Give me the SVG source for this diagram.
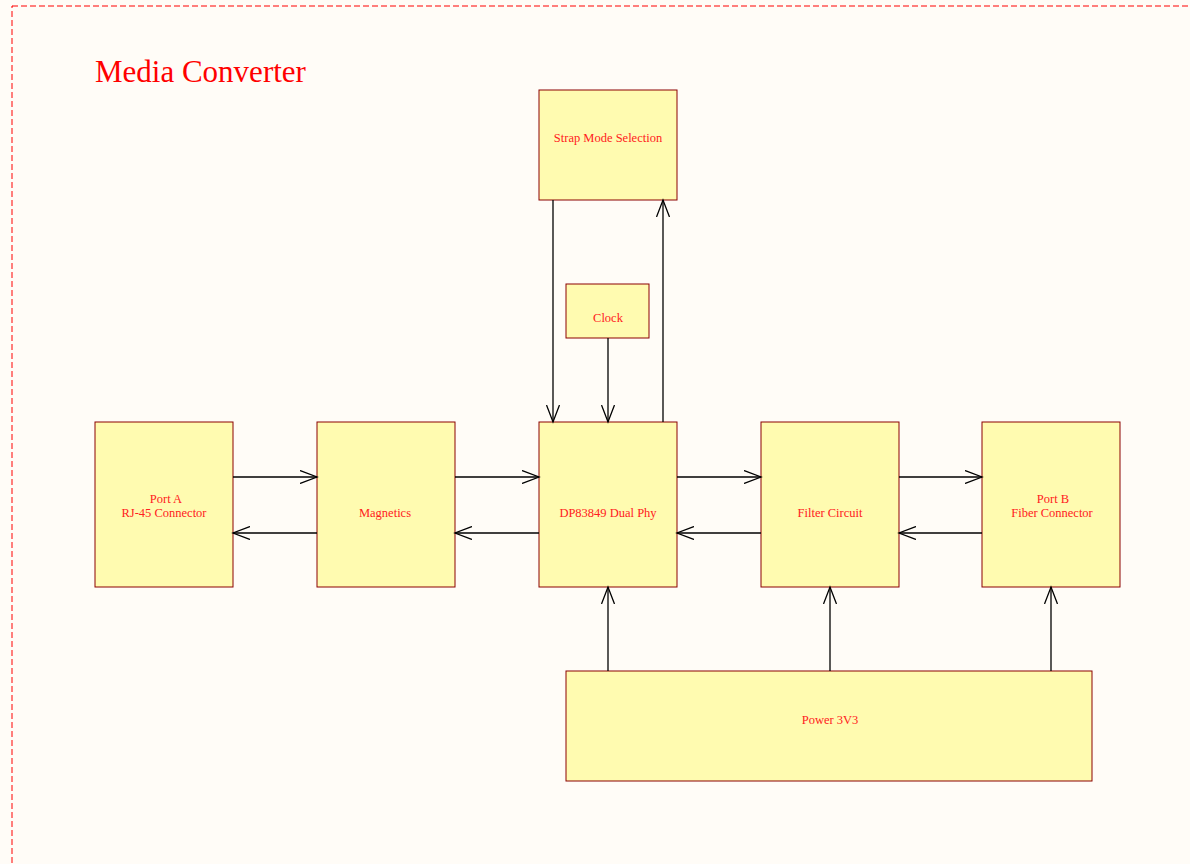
<svg xmlns="http://www.w3.org/2000/svg" width="1190" height="864" viewBox="0 0 1190 864">
<defs>
<marker id="ah" markerWidth="20" markerHeight="14" refX="17" refY="7" orient="auto" markerUnits="userSpaceOnUse">
<path d="M0,0.5 L17,7 L0,13.5" fill="none" stroke="#000" stroke-width="1.3"/>
</marker>
</defs>
<style>
.box{fill:#fffbb0;stroke:#8b0000;stroke-width:1}
.lbl{font-family:"Liberation Serif","Times New Roman",serif;font-size:12.5px;fill:#ff2020;text-anchor:middle}
.con{stroke:#000;stroke-width:1.3;fill:none;marker-end:url(#ah)}
</style>
<rect width="1190" height="864" fill="#fffcf7"/>
<rect x="12" y="6" width="1200" height="880" fill="none" stroke="#ff0000" stroke-width="1" stroke-dasharray="6,3"/>
<text x="95" y="82" font-family="'Liberation Serif','Times New Roman',serif" font-size="31" fill="#ff0000">Media Converter</text>
<g id="strap"><rect class="box" x="539" y="90" width="138" height="110"/><text class="lbl" x="608" y="142">Strap Mode Selection</text></g>
<g id="clock"><rect class="box" x="566" y="284" width="83" height="54"/><text class="lbl" x="608" y="322">Clock</text></g>
<g id="portA"><rect class="box" x="95" y="422" width="138" height="165"/><text class="lbl" x="166" y="503">Port A</text><text class="lbl" x="164" y="517">RJ-45 Connector</text></g>
<g id="magnetics"><rect class="box" x="317" y="422" width="138" height="165"/><text class="lbl" x="385" y="517">Magnetics</text></g>
<g id="phy"><rect class="box" x="539" y="422" width="138" height="165"/><text class="lbl" x="608" y="517">DP83849 Dual Phy</text></g>
<g id="filter"><rect class="box" x="761" y="422" width="138" height="165"/><text class="lbl" x="830" y="517">Filter Circuit</text></g>
<g id="portB"><rect class="box" x="982" y="422" width="138" height="165"/><text class="lbl" x="1053" y="503">Port B</text><text class="lbl" x="1052" y="517">Fiber Connector</text></g>
<g id="power"><rect class="box" x="566" y="671" width="526" height="110"/><text class="lbl" x="830" y="724">Power 3V3</text></g>
<g id="connectors">
<line class="con" x1="233" y1="477" x2="317" y2="477"/>
<line class="con" x1="317" y1="533" x2="233" y2="533"/>
<line class="con" x1="455" y1="477" x2="539" y2="477"/>
<line class="con" x1="539" y1="533" x2="455" y2="533"/>
<line class="con" x1="677" y1="477" x2="761" y2="477"/>
<line class="con" x1="761" y1="533" x2="677" y2="533"/>
<line class="con" x1="899" y1="477" x2="982" y2="477"/>
<line class="con" x1="982" y1="533" x2="899" y2="533"/>
<line class="con" x1="553" y1="200" x2="553" y2="422"/>
<line class="con" x1="608" y1="338" x2="608" y2="422"/>
<line class="con" x1="663" y1="422" x2="663" y2="200"/>
<line class="con" x1="608" y1="671" x2="608" y2="587"/>
<line class="con" x1="830" y1="671" x2="830" y2="587"/>
<line class="con" x1="1051" y1="671" x2="1051" y2="587"/>
</g>
</svg>
